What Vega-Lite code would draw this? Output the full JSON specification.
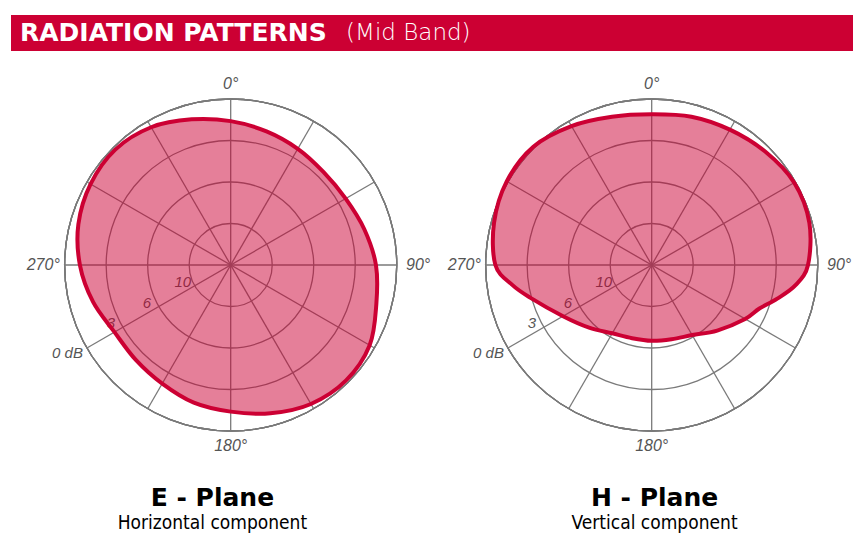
{
  "$schema": "https://vega.github.io/schema/vega-lite/v6.json",
  "background": "white",
  "padding": {"left": 11, "top": 15, "right": 0, "bottom": 0},
  "bounds": "flush",
  "spacing": 0,
  "config": {
    "view": {"stroke": null},
    "font": "Liberation Sans",
    "concat": {"spacing": 0}
  },
  "datasets": {
    "banner": [{"head": "RADIATION PATTERNS", "sub": "(Mid Band)"}],
    "planes": [
      {"plane": "E", "title": "E - Plane", "component": "Horizontal component"},
      {"plane": "H", "title": "H - Plane", "component": "Vertical component"}
    ],
    "rings": [
      {"db": 10, "label": "10"},
      {"db": 6, "label": "6"},
      {"db": 3, "label": "3"},
      {"db": 0, "label": "0 dB"}
    ],
    "spokes": [
      {"bearing": 0}, {"bearing": 30}, {"bearing": 60},
      {"bearing": 90}, {"bearing": 120}, {"bearing": 150}
    ],
    "compass": [
      {"bearing": 0, "label": "0°"},
      {"bearing": 90, "label": "90°"},
      {"bearing": 180, "label": "180°"},
      {"bearing": 270, "label": "270°"}
    ],
    "pattern": [
      {"plane": "E", "angle": 0, "db": 1.6}, {"plane": "E", "angle": 15, "db": 2.0},
      {"plane": "E", "angle": 30, "db": 2.3}, {"plane": "E", "angle": 45, "db": 2.5},
      {"plane": "E", "angle": 60, "db": 2.4}, {"plane": "E", "angle": 75, "db": 2.0},
      {"plane": "E", "angle": 90, "db": 1.5}, {"plane": "E", "angle": 105, "db": 1.1},
      {"plane": "E", "angle": 120, "db": 0.4}, {"plane": "E", "angle": 135, "db": 0.2},
      {"plane": "E", "angle": 150, "db": 0.4}, {"plane": "E", "angle": 165, "db": 0.9},
      {"plane": "E", "angle": 180, "db": 1.4}, {"plane": "E", "angle": 195, "db": 1.7},
      {"plane": "E", "angle": 210, "db": 2.1}, {"plane": "E", "angle": 225, "db": 2.3},
      {"plane": "E", "angle": 240, "db": 2.3}, {"plane": "E", "angle": 255, "db": 1.7},
      {"plane": "E", "angle": 270, "db": 1.1}, {"plane": "E", "angle": 285, "db": 0.6},
      {"plane": "E", "angle": 300, "db": 0.3}, {"plane": "E", "angle": 315, "db": 0.2},
      {"plane": "E", "angle": 330, "db": 0.5}, {"plane": "E", "angle": 345, "db": 1.1},
      {"plane": "H", "angle": 0, "db": 1.1}, {"plane": "H", "angle": 15, "db": 0.9},
      {"plane": "H", "angle": 30, "db": 0.7}, {"plane": "H", "angle": 45, "db": 0.4},
      {"plane": "H", "angle": 60, "db": 0.1}, {"plane": "H", "angle": 75, "db": 0.2},
      {"plane": "H", "angle": 90, "db": 0.7}, {"plane": "H", "angle": 98, "db": 1.5},
      {"plane": "H", "angle": 105, "db": 2.6}, {"plane": "H", "angle": 112, "db": 3.6},
      {"plane": "H", "angle": 120, "db": 4.2}, {"plane": "H", "angle": 135, "db": 5.3},
      {"plane": "H", "angle": 150, "db": 6.2}, {"plane": "H", "angle": 165, "db": 6.6},
      {"plane": "H", "angle": 180, "db": 6.7}, {"plane": "H", "angle": 195, "db": 6.7},
      {"plane": "H", "angle": 210, "db": 6.4}, {"plane": "H", "angle": 225, "db": 5.6},
      {"plane": "H", "angle": 240, "db": 4.6}, {"plane": "H", "angle": 255, "db": 2.9},
      {"plane": "H", "angle": 262, "db": 1.8}, {"plane": "H", "angle": 270, "db": 0.7},
      {"plane": "H", "angle": 285, "db": 0.2}, {"plane": "H", "angle": 300, "db": -0.1},
      {"plane": "H", "angle": 315, "db": -0.1}, {"plane": "H", "angle": 330, "db": 0.4},
      {"plane": "H", "angle": 345, "db": 0.9}
    ]
  },
  "vconcat": [
    {
      "width": 842,
      "height": 36,
      "view": {"fill": "#CC0033", "stroke": null},
      "data": {"name": "banner"},
      "layer": [
        {
          "mark": {"type": "text", "align": "left", "baseline": "middle", "font": "DejaVu Sans", "fontWeight": "bold", "fontSize": 25, "color": "white"},
          "encoding": {
            "x": {"datum": 0.0107, "type": "quantitative", "scale": {"domain": [0, 1], "nice": false, "zero": false}, "axis": null},
            "text": {"field": "head"}
          }
        },
        {
          "mark": {"type": "text", "align": "left", "baseline": "middle", "font": "DejaVu Sans", "fontWeight": 200, "fontSize": 23, "color": "white"},
          "encoding": {
            "x": {"datum": 0.398, "type": "quantitative"},
            "text": {"field": "sub"}
          }
        }
      ]
    },
    {
      "hconcat": [
        {
          "width": 421,
          "height": 504,
          "layer": [
            {
              "data": {"name": "rings"},
              "mark": {"type": "arc", "filled": false, "stroke": "#7a7a7a", "strokeWidth": 1.3},
              "encoding": {
                "x": {"datum": 0, "type": "quantitative", "scale": {"domain": [-5.294, 4.851], "nice": false, "zero": false}, "axis": null},
                "y": {"datum": 0, "type": "quantitative", "scale": {"domain": [-6.988, 5.157], "nice": false, "zero": false}, "axis": null},
                "radius": {"field": "db", "type": "quantitative", "stack": null, "scale": {"type": "linear", "domain": [0, 3, 6, 10, 14], "range": [166, 124.5, 83, 41.5, 0], "zero": false, "nice": false}}
              }
            },
            {
              "data": {"name": "spokes"},
              "transform": [
                {"calculate": "4 * sin(datum.bearing * PI / 180)", "as": "ex"},
                {"calculate": "4 * cos(datum.bearing * PI / 180)", "as": "ey"},
                {"calculate": "-datum.ex", "as": "wx"},
                {"calculate": "-datum.ey", "as": "wy"}
              ],
              "mark": {"type": "rule", "stroke": "#7a7a7a", "strokeWidth": 1.3},
              "encoding": {
                "x": {"field": "wx", "type": "quantitative"},
                "y": {"field": "wy", "type": "quantitative"},
                "x2": {"field": "ex"},
                "y2": {"field": "ey"}
              }
            },
            {
              "data": {"name": "rings"},
              "transform": [{"filter": "datum.db > 0"}],
              "mark": {"type": "text", "align": "center", "baseline": "middle", "fontStyle": "italic", "fontSize": 15, "color": "#555555", "dx": -12, "dy": -4},
              "encoding": {
                "x": {"datum": 0, "type": "quantitative"},
                "y": {"datum": 0, "type": "quantitative"},
                "theta": {"datum": 240, "type": "quantitative", "scale": {"domain": [0, 360], "zero": false, "nice": false}},
                "radius": {"field": "db", "type": "quantitative", "stack": null},
                "text": {"field": "label"}
              }
            },
            {
              "data": {"name": "rings"},
              "transform": [{"filter": "datum.db == 0"}],
              "mark": {"type": "text", "align": "right", "baseline": "middle", "fontStyle": "italic", "fontSize": 15, "color": "#555555", "dx": -4, "dy": 5},
              "encoding": {
                "x": {"datum": 0, "type": "quantitative"},
                "y": {"datum": 0, "type": "quantitative"},
                "theta": {"datum": 240, "type": "quantitative"},
                "radius": {"field": "db", "type": "quantitative", "stack": null},
                "text": {"field": "label"}
              }
            },
            {
              "data": {"name": "compass"},
              "transform": [{"filter": "datum.bearing % 180 == 0"}],
              "mark": {"type": "text", "align": "center", "baseline": "middle", "fontStyle": "italic", "fontSize": 16, "color": "#555555"},
              "encoding": {
                "x": {"datum": 0, "type": "quantitative"},
                "y": {"datum": 0, "type": "quantitative"},
                "theta": {"field": "bearing", "type": "quantitative"},
                "radius": {"datum": -1.1, "type": "quantitative"},
                "text": {"field": "label"}
              }
            },
            {
              "data": {"name": "compass"},
              "transform": [{"filter": "datum.bearing % 180 != 0"}],
              "mark": {"type": "text", "align": "center", "baseline": "middle", "fontStyle": "italic", "fontSize": 16, "color": "#555555"},
              "encoding": {
                "x": {"datum": 0, "type": "quantitative"},
                "y": {"datum": 0, "type": "quantitative"},
                "theta": {"field": "bearing", "type": "quantitative"},
                "radius": {"datum": -1.55, "type": "quantitative"},
                "text": {"field": "label"}
              }
            },
            {
              "data": {"name": "pattern"},
              "transform": [
                {"filter": "datum.plane === 'E'"},
                {"calculate": "datum.db <= 6 ? 4 - datum.db / 3 : 2 - (datum.db - 6) / 4", "as": "r"},
                {"calculate": "datum.r * sin(datum.angle * PI / 180)", "as": "px"},
                {"calculate": "datum.r * cos(datum.angle * PI / 180)", "as": "py"}
              ],
              "mark": {"type": "line", "interpolate": "cardinal-closed", "stroke": "#CC0033", "strokeWidth": 4, "fill": "#CC0033", "fillOpacity": 0.5, "strokeJoin": "round"},
              "encoding": {
                "x": {"field": "px", "type": "quantitative"},
                "y": {"field": "py", "type": "quantitative"},
                "order": {"field": "angle", "type": "quantitative"}
              }
            },
            {
              "data": {"name": "planes"},
              "transform": [{"filter": "datum.plane === 'E'"}],
              "layer": [
                {
                  "mark": {"type": "text", "align": "center", "baseline": "alphabetic", "font": "DejaVu Sans", "fontWeight": "bold", "fontSize": 25, "color": "black"},
                  "encoding": {
                    "x": {"datum": -0.44, "type": "quantitative"},
                    "y": {"datum": -5.81, "type": "quantitative"},
                    "text": {"field": "title"}
                  }
                },
                {
                  "mark": {"type": "text", "align": "center", "baseline": "alphabetic", "font": "Liberation Sans Narrow, DejaVu Sans Condensed, sans-serif", "fontSize": 19, "color": "black"},
                  "encoding": {
                    "x": {"datum": -0.44, "type": "quantitative"},
                    "y": {"datum": -6.35, "type": "quantitative"},
                    "text": {"field": "component"}
                  }
                }
              ]
            }
          ]
        },
        {
          "width": 421,
          "height": 504,
          "layer": [
            {
              "data": {"name": "rings"},
              "mark": {"type": "arc", "filled": false, "stroke": "#7a7a7a", "strokeWidth": 1.3},
              "encoding": {
                "x": {"datum": 0, "type": "quantitative", "scale": {"domain": [-5.294, 4.851], "nice": false, "zero": false}, "axis": null},
                "y": {"datum": 0, "type": "quantitative", "scale": {"domain": [-6.988, 5.157], "nice": false, "zero": false}, "axis": null},
                "radius": {"field": "db", "type": "quantitative", "stack": null, "scale": {"type": "linear", "domain": [0, 3, 6, 10, 14], "range": [166, 124.5, 83, 41.5, 0], "zero": false, "nice": false}}
              }
            },
            {
              "data": {"name": "spokes"},
              "transform": [
                {"calculate": "4 * sin(datum.bearing * PI / 180)", "as": "ex"},
                {"calculate": "4 * cos(datum.bearing * PI / 180)", "as": "ey"},
                {"calculate": "-datum.ex", "as": "wx"},
                {"calculate": "-datum.ey", "as": "wy"}
              ],
              "mark": {"type": "rule", "stroke": "#7a7a7a", "strokeWidth": 1.3},
              "encoding": {
                "x": {"field": "wx", "type": "quantitative"},
                "y": {"field": "wy", "type": "quantitative"},
                "x2": {"field": "ex"},
                "y2": {"field": "ey"}
              }
            },
            {
              "data": {"name": "rings"},
              "transform": [{"filter": "datum.db > 0"}],
              "mark": {"type": "text", "align": "center", "baseline": "middle", "fontStyle": "italic", "fontSize": 15, "color": "#555555", "dx": -12, "dy": -4},
              "encoding": {
                "x": {"datum": 0, "type": "quantitative"},
                "y": {"datum": 0, "type": "quantitative"},
                "theta": {"datum": 240, "type": "quantitative", "scale": {"domain": [0, 360], "zero": false, "nice": false}},
                "radius": {"field": "db", "type": "quantitative", "stack": null},
                "text": {"field": "label"}
              }
            },
            {
              "data": {"name": "rings"},
              "transform": [{"filter": "datum.db == 0"}],
              "mark": {"type": "text", "align": "right", "baseline": "middle", "fontStyle": "italic", "fontSize": 15, "color": "#555555", "dx": -4, "dy": 5},
              "encoding": {
                "x": {"datum": 0, "type": "quantitative"},
                "y": {"datum": 0, "type": "quantitative"},
                "theta": {"datum": 240, "type": "quantitative"},
                "radius": {"field": "db", "type": "quantitative", "stack": null},
                "text": {"field": "label"}
              }
            },
            {
              "data": {"name": "compass"},
              "transform": [{"filter": "datum.bearing % 180 == 0"}],
              "mark": {"type": "text", "align": "center", "baseline": "middle", "fontStyle": "italic", "fontSize": 16, "color": "#555555"},
              "encoding": {
                "x": {"datum": 0, "type": "quantitative"},
                "y": {"datum": 0, "type": "quantitative"},
                "theta": {"field": "bearing", "type": "quantitative"},
                "radius": {"datum": -1.1, "type": "quantitative"},
                "text": {"field": "label"}
              }
            },
            {
              "data": {"name": "compass"},
              "transform": [{"filter": "datum.bearing % 180 != 0"}],
              "mark": {"type": "text", "align": "center", "baseline": "middle", "fontStyle": "italic", "fontSize": 16, "color": "#555555"},
              "encoding": {
                "x": {"datum": 0, "type": "quantitative"},
                "y": {"datum": 0, "type": "quantitative"},
                "theta": {"field": "bearing", "type": "quantitative"},
                "radius": {"datum": -1.55, "type": "quantitative"},
                "text": {"field": "label"}
              }
            },
            {
              "data": {"name": "pattern"},
              "transform": [
                {"filter": "datum.plane === 'H'"},
                {"calculate": "datum.db <= 6 ? 4 - datum.db / 3 : 2 - (datum.db - 6) / 4", "as": "r"},
                {"calculate": "datum.r * sin(datum.angle * PI / 180)", "as": "px"},
                {"calculate": "datum.r * cos(datum.angle * PI / 180)", "as": "py"}
              ],
              "mark": {"type": "line", "interpolate": "cardinal-closed", "stroke": "#CC0033", "strokeWidth": 4, "fill": "#CC0033", "fillOpacity": 0.5, "strokeJoin": "round"},
              "encoding": {
                "x": {"field": "px", "type": "quantitative"},
                "y": {"field": "py", "type": "quantitative"},
                "order": {"field": "angle", "type": "quantitative"}
              }
            },
            {
              "data": {"name": "planes"},
              "transform": [{"filter": "datum.plane === 'H'"}],
              "layer": [
                {
                  "mark": {"type": "text", "align": "center", "baseline": "alphabetic", "font": "DejaVu Sans", "fontWeight": "bold", "fontSize": 25, "color": "black"},
                  "encoding": {
                    "x": {"datum": 0.07, "type": "quantitative"},
                    "y": {"datum": -5.81, "type": "quantitative"},
                    "text": {"field": "title"}
                  }
                },
                {
                  "mark": {"type": "text", "align": "center", "baseline": "alphabetic", "font": "Liberation Sans Narrow, DejaVu Sans Condensed, sans-serif", "fontSize": 19, "color": "black"},
                  "encoding": {
                    "x": {"datum": 0.07, "type": "quantitative"},
                    "y": {"datum": -6.35, "type": "quantitative"},
                    "text": {"field": "component"}
                  }
                }
              ]
            }
          ]
        }
      ]
    }
  ]
}
